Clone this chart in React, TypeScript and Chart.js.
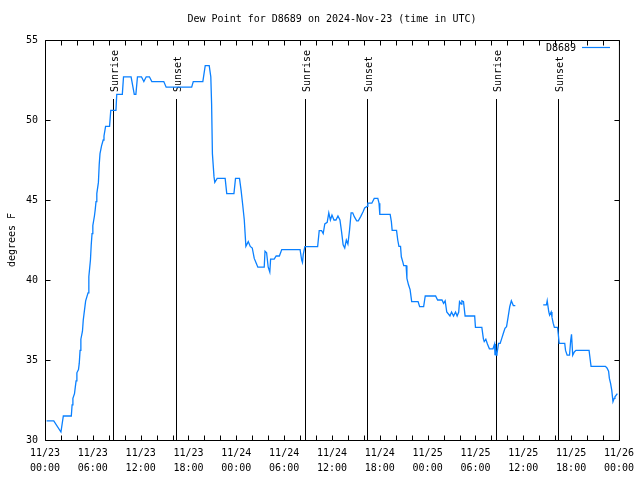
import React, { useEffect, useRef } from "react";
import { Chart, registerables } from "chart.js";

Chart.register(...registerables);

const TITLE = "Dew Point for D8689 on 2024-Nov-23 (time in UTC)";
const SERIES_NAME = "D8689";
const Y_TITLE = "degrees F";

// hours since 2024-11-23 00:00 UTC
const hours = [
  0.2, 1.1, 2.0, 2.3, 3.3, 3.4, 3.5, 3.7, 3.8, 3.9, 4.0, 4.2, 4.3, 4.4, 4.5, 4.7, 4.8, 5.0, 5.1, 5.4,
  5.5, 5.7, 5.8, 5.9, 6.0, 6.2, 6.3, 6.4, 6.5, 6.7, 6.8, 6.9, 7.1, 7.3, 7.4, 7.6, 8.1, 8.25, 8.9, 9.0,
  9.7, 9.85, 10.8, 11.2, 11.4, 11.6, 12.1, 12.4, 12.7, 13.1, 13.4, 14.9, 15.2, 18.4, 18.6, 19.8, 20.1, 20.6, 20.8, 20.9,
  21.0, 21.2, 21.3, 21.6, 22.6, 22.8, 23.7, 23.9, 24.4, 24.6, 24.8, 25.0, 25.2, 25.5, 25.75, 26.0, 26.25, 26.5, 26.7, 27.5,
  27.6, 27.8, 28.0, 28.2, 28.3, 28.75, 29.0, 29.4, 29.7, 32.0, 32.2, 32.3, 32.4, 32.6, 34.2, 34.4, 34.7, 34.9, 35.1, 35.4,
  35.6, 35.8, 36.0, 36.25, 36.5, 36.75, 37.0, 37.2, 37.4, 37.6, 37.8, 38.0, 38.2, 38.4, 38.6, 38.8, 39.1, 39.3, 39.6, 39.9,
  40.1, 40.4, 40.5, 41.0, 41.3, 41.75, 41.9, 42.0, 43.3, 43.45, 43.55, 44.1, 44.25, 44.4, 44.6, 44.7, 44.9, 45.0, 45.3, 45.4,
  45.6, 45.8, 46.0, 46.8, 47.0, 47.5, 47.7, 49.0, 49.25, 49.8, 50.0, 50.2, 50.4, 50.8, 51.0, 51.25, 51.5, 51.7, 51.9, 52.0,
  52.2, 52.3, 52.5, 52.7, 53.9, 54.0, 54.8, 55.0, 55.1, 55.3, 55.5, 55.75, 56.2, 56.4, 56.45, 56.5, 56.6, 56.7, 56.9, 57.1,
  57.3, 57.5, 57.7, 57.9, 58.1, 58.3, 58.5, 58.75, 59.0, 60.7, 62.5, 62.9, 63.0, 63.2, 63.3, 63.5, 63.6, 63.75, 63.9, 64.3,
  64.4, 64.5, 65.2, 65.3, 65.5, 65.8, 65.95, 66.05, 66.2, 66.4, 66.6, 68.25, 68.4, 68.5, 70.3, 70.5, 70.7, 70.8, 70.95, 71.1,
  71.25, 71.4, 71.5, 71.8,
];

const dewF = [
  31.2, 31.2, 30.5, 31.5, 31.5, 32.2, 32.6, 32.9, 33.3, 33.7, 34.2, 34.4, 34.8, 35.6, 36.3, 36.8, 37.5, 38.3, 38.7, 39.2,
  40.2, 41.25, 42.2, 42.9, 43.4, 44.0, 44.4, 44.9, 45.4, 46.1, 47.2, 47.9, 48.4, 48.75, 49.0, 49.6, 49.6, 50.6, 50.6, 51.6,
  51.6, 52.7, 52.7, 51.6, 51.6, 52.7, 52.7, 52.4, 52.7, 52.7, 52.4, 52.4, 52.05, 52.05, 52.4, 52.4, 53.4, 53.4, 52.7, 51.0,
  47.9, 46.46, 46.1, 46.35, 46.35, 45.4, 45.4, 46.35, 46.35, 45.6, 44.7, 43.75, 42.1, 42.4, 42.1, 42.0, 41.35, 41.04, 40.8, 40.8,
  41.8, 41.7, 40.8, 40.5, 41.3, 41.3, 41.5, 41.5, 41.9, 41.9, 41.25, 41.1, 41.6, 42.08, 42.08, 43.08, 43.08, 42.9, 43.5, 43.6,
  44.2, 43.75, 44.06, 43.75, 43.75, 44.0, 43.75, 43.02, 42.2, 42.0, 42.5, 42.25, 43.1, 44.2, 44.2, 43.96, 43.7, 43.7, 43.96, 44.27,
  44.5, 44.6, 44.8, 44.8, 45.1, 45.1, 44.8, 44.1, 44.1, 43.65, 43.1, 43.1, 42.5, 42.1, 42.1, 41.45, 41.1, 40.9, 40.9, 40.1,
  39.7, 39.4, 38.65, 38.65, 38.33, 38.33, 39.0, 39.0, 38.75, 38.75, 38.54, 38.7, 38.0, 37.75, 38.0, 37.75, 38.0, 37.75, 38.0, 38.65,
  38.5, 38.7, 38.65, 37.75, 37.75, 37.04, 37.04, 36.3, 36.15, 36.3, 36.0, 35.7, 35.7, 36.0, 35.3, 36.0, 35.3, 35.4, 36.04, 36.04,
  36.35, 36.67, 36.98, 37.08, 37.7, 38.33, 38.7, 38.4, 38.4, null, 38.44, 38.44, 38.7, 38.0, 37.8, 38.0, 37.67, 37.3, 37.04, 37.04,
  36.56, 36.04, 36.04, 35.6, 35.3, 35.3, 36.25, 36.6, 35.3, 35.5, 35.6, 35.6, 35.0, 34.6, 34.6, 34.5, 34.3, 33.85, 33.54, 33.1,
  32.4, 32.6, 32.7, 32.9,
];

const xTickLabels = [
  ["11/23", "00:00"], ["11/23", "06:00"], ["11/23", "12:00"], ["11/23", "18:00"],
  ["11/24", "00:00"], ["11/24", "06:00"], ["11/24", "12:00"], ["11/24", "18:00"],
  ["11/25", "00:00"], ["11/25", "06:00"], ["11/25", "12:00"], ["11/25", "18:00"],
  ["11/26", "00:00"],
];

const sunriseHours = [8.55, 32.58, 56.55];
const sunsetHours = [16.42, 40.41, 64.3];

const FONT = "DejaVu Sans Mono";
const LINE_COLOR = "#0a80ff";

const decorPlugin = {
  id: "gnuplotDecor",
  beforeDatasetsDraw(chart: any) {
    const { ctx, chartArea, scales } = chart;
    const xs = scales.x;
    ctx.save();
    ctx.strokeStyle = "#000";
    ctx.lineWidth = 1;
    ctx.fillStyle = "#000";
    ctx.font = `10px "${FONT}"`;
    const drawEvent = (h: number, label: string) => {
      const px = Math.round(xs.getPixelForValue(h)) + 0.5;
      ctx.beginPath();
      ctx.moveTo(px, 99);
      ctx.lineTo(px, chartArea.bottom);
      ctx.stroke();
      ctx.save();
      ctx.translate(px + 1.5, 92);
      ctx.rotate(-Math.PI / 2);
      ctx.textAlign = "left";
      ctx.textBaseline = "middle";
      ctx.fillText(label, 0, 0);
      ctx.restore();
    };
    sunriseHours.forEach((h) => drawEvent(h, "Sunrise"));
    sunsetHours.forEach((h) => drawEvent(h, "Sunset"));
    ctx.restore();
  },
  afterDraw(chart: any) {
    const { ctx, chartArea, scales } = chart;
    const xs = scales.x;
    const ys = scales.y;
    const L = chartArea.left + 0.5;
    const R = chartArea.right + 0.5;
    const T = chartArea.top + 0.5;
    const B = chartArea.bottom + 0.5;
    ctx.save();
    ctx.strokeStyle = "#000";
    ctx.lineWidth = 1;
    ctx.beginPath();
    ctx.rect(L, T, R - L, B - T);
    for (let h = 0; h <= 72; h += 2) {
      const px = Math.round(xs.getPixelForValue(h)) + 0.5;
      ctx.moveTo(px, B);
      ctx.lineTo(px, B - 5);
      ctx.moveTo(px, T);
      ctx.lineTo(px, T + 5);
    }
    ys.ticks.forEach((t: any) => {
      const py = Math.round(ys.getPixelForValue(t.value)) + 0.5;
      ctx.moveTo(L, py);
      ctx.lineTo(L + 5, py);
      ctx.moveTo(R, py);
      ctx.lineTo(R - 5, py);
    });
    ctx.stroke();

    ctx.fillStyle = "#000";
    ctx.font = `10px "${FONT}"`;
    ctx.textAlign = "center";
    ctx.textBaseline = "middle";
    ctx.fillText(TITLE, (chartArea.left + chartArea.right) / 2, 19);

    ctx.save();
    ctx.translate(12, (chartArea.top + chartArea.bottom) / 2);
    ctx.rotate(-Math.PI / 2);
    ctx.fillText(Y_TITLE, 0, 0);
    ctx.restore();

    // legend
    ctx.textAlign = "right";
    ctx.fillText(SERIES_NAME, 576, 48);
    ctx.beginPath();
    ctx.strokeStyle = LINE_COLOR;
    ctx.lineWidth = 1.2;
    ctx.moveTo(582, 47.5);
    ctx.lineTo(610, 47.5);
    ctx.stroke();
    ctx.restore();
  },
};

export default function App() {
  const canvasRef = useRef<HTMLCanvasElement | null>(null);

  useEffect(() => {
    const canvas = canvasRef.current;
    if (!canvas) return;
    const points = hours.map((h, i) => ({ x: h, y: dewF[i] }));
    const chart = new Chart(canvas, {
      type: "line",
      data: {
        datasets: [
          {
            label: SERIES_NAME,
            data: points as any,
            borderColor: LINE_COLOR,
            backgroundColor: LINE_COLOR,
            borderWidth: 1.3,
            pointRadius: 0,
            tension: 0,
            spanGaps: false,
          },
        ],
      },
      options: {
        animation: false,
        responsive: false,
        maintainAspectRatio: false,
        layout: { padding: { top: 40, right: 19, left: 0, bottom: 0 } },
        plugins: {
          legend: { display: false },
          title: { display: false },
          tooltip: { enabled: false },
        },
        scales: {
          x: {
            type: "linear",
            min: 0,
            max: 72,
            grid: { display: false, drawTicks: false },
            border: { display: false },
            ticks: {
              stepSize: 6,
              autoSkip: false,
              maxRotation: 0,
              minRotation: 0,
              padding: 6,
              color: "#000",
              font: { family: FONT, size: 10, lineHeight: 1.5 },
              callback: (_v: any, i: number) => xTickLabels[i],
            },
            afterFit: (scale: any) => {
              scale.height = 40;
            },
          },
          y: {
            type: "linear",
            min: 30,
            max: 55,
            grid: { display: false, drawTicks: false },
            border: { display: false },
            ticks: {
              stepSize: 5,
              padding: 7,
              color: "#000",
              font: { family: FONT, size: 10 },
            },
            afterFit: (scale: any) => {
              scale.width = 45;
            },
          },
        },
      },
      plugins: [decorPlugin],
    });
    return () => chart.destroy();
  }, []);

  return (
    <div style={{ position: "absolute", left: 0, top: 0, width: 640, height: 480, background: "#fff" }}>
      <canvas ref={canvasRef} width={640} height={480} />
    </div>
  );
}
